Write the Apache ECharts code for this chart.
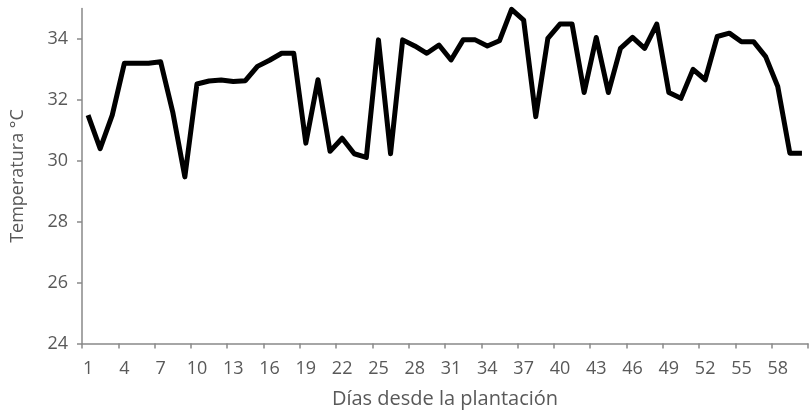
<!DOCTYPE html>
<html>
<head>
<meta charset="utf-8">
<script src="https://cdn.jsdelivr.net/npm/echarts@6/dist/echarts.min.js"></script>
<style>html,body{margin:0;padding:0;background:#fff}#c{width:809px;height:412px}</style>
</head>
<body>
<div id="c"></div>
<script>
const days = Array.from({length: 60}, (_, i) => String(i + 1));
const temperatura = [
  31.5, 30.4, 31.5, 33.2, 33.2, 33.2, 33.25, 31.6, 29.47, 32.52,
  32.62, 32.65, 32.6, 32.63, 33.1, 33.3, 33.53, 33.53, 30.58, 32.66,
  30.31, 30.74, 30.23, 30.11, 33.97, 30.23, 33.97, 33.77, 33.53, 33.8,
  33.31, 33.97, 33.97, 33.77, 33.94, 34.97, 34.62, 31.45, 34.02, 34.49,
  34.49, 32.24, 34.05, 32.24, 33.69, 34.05, 33.69, 34.49, 32.24, 32.05,
  33.0, 32.66, 34.08, 34.19, 33.91, 33.91, 33.42, 32.44, 30.25, 30.25
];
const yTicks = [24, 26, 28, 30, 32, 34];

const chart = echarts.init(document.getElementById('c'), null, {renderer: 'canvas'});
const font = '"Open Sans", sans-serif';
const axisGray = '#898989';
const textGray = '#595959';
chart.setOption({
  animation: false,
  backgroundColor: '#fff',
  grid: {left: 82, right: 1, top: 8.5, bottom: 68.5, containLabel: false, outerBoundsMode: 'none'},
  xAxis: {
    type: 'category',
    data: days,
    boundaryGap: true,
    name: 'Días desde la plantación',
    nameLocation: 'middle',
    nameGap: 45.5,
    nameTextStyle: {color: textGray, fontFamily: font, fontSize: 20},
    axisLine: {lineStyle: {color: axisGray, width: 1.5}},
    axisTick: {show: true, interval: 2, length: 5, lineStyle: {color: axisGray, width: 1.5}},
    axisLabel: {interval: 2, color: textGray, fontFamily: font, fontSize: 18, margin: 16},
    splitLine: {show: false}
  },
  yAxis: {
    type: 'value',
    min: 24,
    max: 35,
    name: 'Temperatura °C',
    nameLocation: 'middle',
    nameGap: 55.5,
    nameRotate: 90,
    nameTextStyle: {color: textGray, fontFamily: font, fontSize: 18},
    axisLine: {show: true, lineStyle: {color: axisGray, width: 1.5}},
    axisTick: {show: true, length: 5, customValues: yTicks, lineStyle: {color: axisGray, width: 1.5}},
    axisLabel: {customValues: yTicks, color: textGray, fontFamily: font, fontSize: 18, margin: 14},
    splitLine: {show: false}
  },
  series: [{
    type: 'line',
    data: temperatura,
    showSymbol: false,
    symbol: 'none',
    lineStyle: {color: '#000', width: 5, join: 'round'},
    clip: false
  }]
});
</script>
</body>
</html>
